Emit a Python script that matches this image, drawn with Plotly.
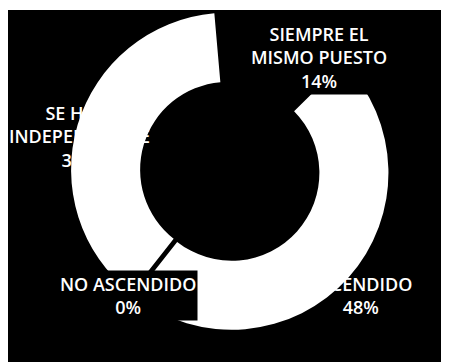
import plotly.graph_objects as go

labels = ["SIEMPRE EL MISMO PUESTO", "ASCENDIDO", "NO ASCENDIDO", "SE HIZO INDEPENDIENTE"]
values = [14, 48, 0, 38]
label_lines = ["SIEMPRE EL<br>MISMO PUESTO", "ASCENDIDO", "NO ASCENDIDO", "SE HIZO<br>INDEPENDIENTE"]
slice_colors = ["#000000", "#ffffff", "#ffffff", "#ffffff"]
pulls = [0, 0.03, 0, 0]

total = sum(values)
fig = go.Figure()
fig.add_trace(go.Pie(
    labels=labels,
    values=values,
    hole=0.56,
    sort=False,
    direction="clockwise",
    rotation=-5,
    pull=pulls,
    marker=dict(colors=slice_colors, line=dict(width=0)),
    textinfo="none",
    showlegend=False,
    domain=dict(x=[0.130, 0.850], y=[0.1066, 1.0]),
    hoverinfo="label+percent",
))

# label anchor positions (paper coords) and label backgrounds
label_pos = [(0.692, 0.862), (0.786, 0.207), (0.267, 0.207), (0.16, 0.646)]
label_bg = ["black", "rgba(0,0,0,0)", "black", "rgba(0,0,0,0)"]
for txt, v, (px, py), bg in zip(label_lines, values, label_pos, label_bg):
    fig.add_annotation(
        x=px, y=py, xref="paper", yref="paper",
        xanchor="center", yanchor="middle",
        text=f"{txt}<br>{round(100 * v / total)}%",
        showarrow=False,
        bgcolor=bg,
        font=dict(family="Open Sans", size=18, color="white", weight=600),
        align="center",
    )

fig.add_shape(type="rect", xref="paper", yref="paper", x0=0, x1=1, y0=0, y1=0.9945,
              fillcolor="black", line=dict(width=0), layer="below")

fig.update_layout(
    width=449, height=362,
    margin=dict(l=0, r=0, t=0, b=0),
    paper_bgcolor="white",
    plot_bgcolor="black",
)
fig.write_html("out.html")
